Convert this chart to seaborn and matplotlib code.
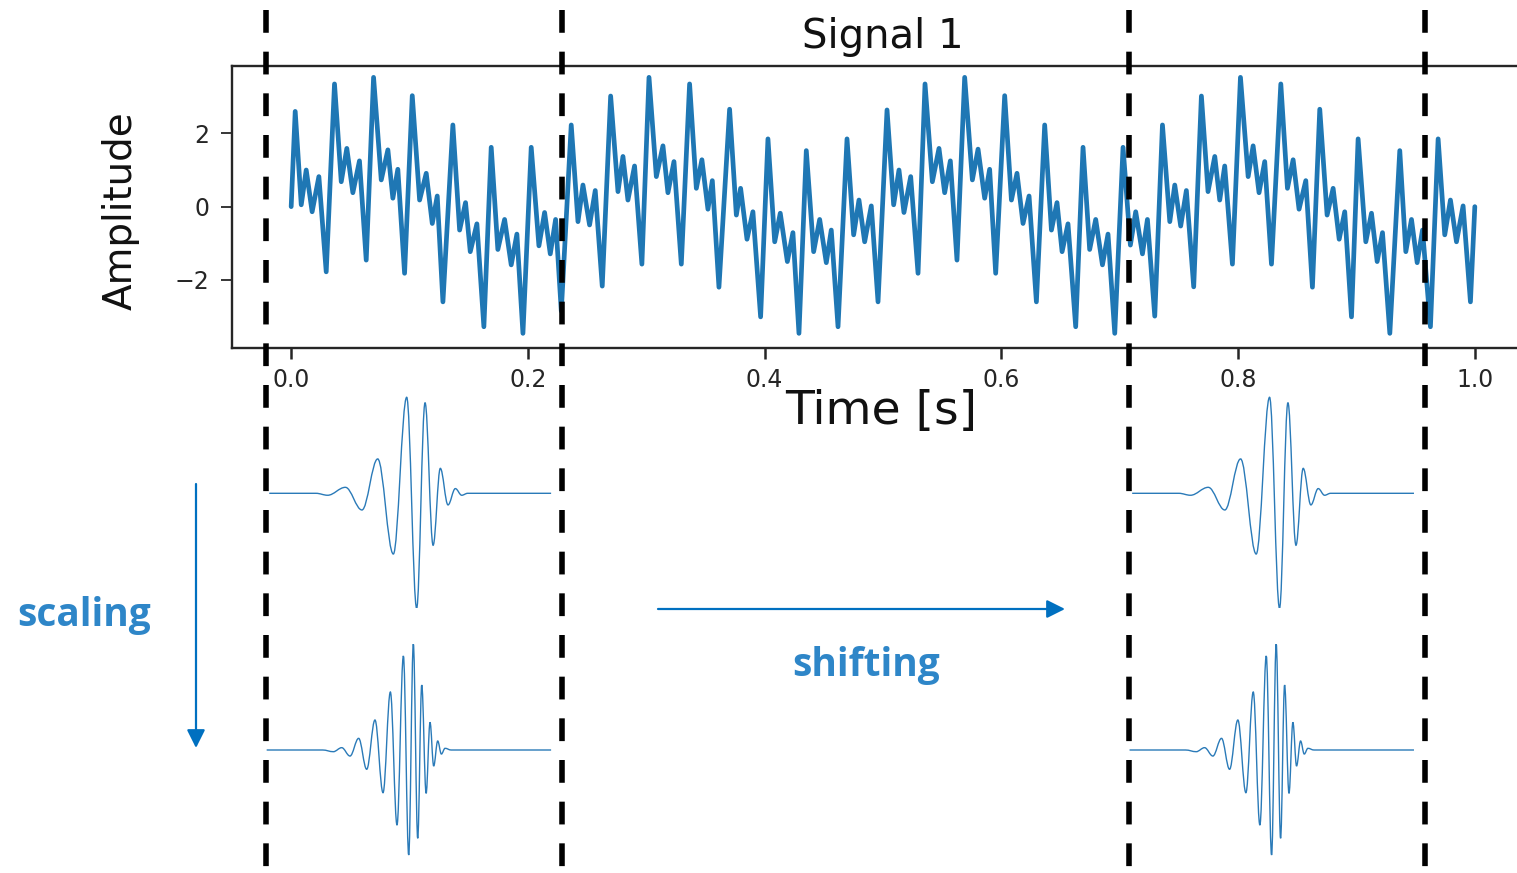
import matplotlib
matplotlib.use("Agg")
import numpy as np
import pandas as pd
import matplotlib.pyplot as plt
import seaborn as sns
from matplotlib.path import Path
from matplotlib.patches import PathPatch
from matplotlib.lines import Line2D
from matplotlib.transforms import blended_transform_factory

# ---------------- data ----------------
signal_time = [
    0.0000, 0.0034, 0.0085, 0.0127, 0.0177, 0.0234, 0.0296, 0.0366, 0.0423, 0.0470,
    0.0521, 0.0577, 0.0634, 0.0696, 0.0761, 0.0817, 0.0859, 0.0901, 0.0958, 0.1023,
    0.1085, 0.1141, 0.1192, 0.1234, 0.1282, 0.1366, 0.1423, 0.1473, 0.1513, 0.1569,
    0.1628, 0.1690, 0.1746, 0.1803, 0.1859, 0.1907, 0.1958, 0.2028, 0.2093, 0.2141,
    0.2189, 0.2234, 0.2282, 0.2366, 0.2423, 0.2465, 0.2521, 0.2569, 0.2628, 0.2699,
    0.2761, 0.2803, 0.2845, 0.2901, 0.2963, 0.3023, 0.3085, 0.3141, 0.3183, 0.3234,
    0.3296, 0.3366, 0.3423, 0.3470, 0.3521, 0.3558, 0.3614, 0.3704, 0.3761, 0.3797,
    0.3851, 0.3901, 0.3966, 0.4028, 0.4085, 0.4132, 0.4192, 0.4239, 0.4290, 0.4352,
    0.4414, 0.4465, 0.4521, 0.4563, 0.4620, 0.4696, 0.4752, 0.4797, 0.4845, 0.4901,
    0.4958, 0.5034, 0.5090, 0.5135, 0.5177, 0.5234, 0.5296, 0.5355, 0.5417, 0.5473,
    0.5521, 0.5569, 0.5625, 0.5690, 0.5755, 0.5803, 0.5859, 0.5901, 0.5952, 0.6028,
    0.6085, 0.6132, 0.6183, 0.6234, 0.6296, 0.6366, 0.6423, 0.6470, 0.6513, 0.6563,
    0.6628, 0.6690, 0.6746, 0.6797, 0.6854, 0.6901, 0.6958, 0.7028, 0.7090, 0.7135,
    0.7192, 0.7234, 0.7296, 0.7361, 0.7423, 0.7465, 0.7515, 0.7563, 0.7625, 0.7690,
    0.7746, 0.7803, 0.7845, 0.7887, 0.7952, 0.8020, 0.8085, 0.8127, 0.8177, 0.8225,
    0.8282, 0.8361, 0.8417, 0.8465, 0.8515, 0.8572, 0.8628, 0.8690, 0.8752, 0.8803,
    0.8854, 0.8901, 0.8958, 0.9014, 0.9079, 0.9127, 0.9175, 0.9220, 0.9282, 0.9366,
    0.9417, 0.9465, 0.9513, 0.9558, 0.9625, 0.9690, 0.9746, 0.9794, 0.9845, 0.9901,
    0.9963, 1.0000,
]
signal_amp = [
    0.00, 2.60, 0.05, 1.00, -0.14, 0.82, -1.78, 3.35, 0.68, 1.59,
    0.38, 1.25, -1.46, 3.53, 0.73, 1.55, 0.23, 1.02, -1.82, 3.03,
    0.18, 0.91, -0.46, 0.29, -2.60, 2.23, -0.64, 0.11, -1.23, -0.47,
    -3.28, 1.62, -1.17, -0.35, -1.59, -0.75, -3.46, 1.62, -1.07, -0.16,
    -1.29, -0.35, -2.85, 2.23, -0.41, 0.59, -0.50, 0.44, -2.17, 3.02,
    0.41, 1.37, 0.18, 1.11, -1.57, 3.53, 0.82, 1.66, 0.38, 1.23,
    -1.57, 3.35, 0.50, 1.28, -0.07, 0.71, -2.20, 2.66, -0.23, 0.50,
    -0.89, -0.14, -3.01, 1.85, -0.96, -0.18, -1.50, -0.71, -3.46, 1.53,
    -1.23, -0.35, -1.53, -0.64, -3.28, 1.85, -0.77, 0.18, -0.96, 0.02,
    -2.60, 2.64, 0.05, 1.00, -0.16, 0.82, -1.82, 3.35, 0.68, 1.59,
    0.38, 1.25, -1.46, 3.53, 0.73, 1.57, 0.23, 1.02, -1.82, 3.03,
    0.18, 0.91, -0.46, 0.29, -2.60, 2.23, -0.64, 0.11, -1.23, -0.47,
    -3.28, 1.62, -1.17, -0.35, -1.59, -0.75, -3.46, 1.62, -1.05, -0.14,
    -1.29, -0.35, -2.99, 2.23, -0.41, 0.59, -0.53, 0.44, -2.19, 3.02,
    0.41, 1.37, 0.18, 1.11, -1.57, 3.53, 0.82, 1.66, 0.38, 1.23,
    -1.57, 3.35, 0.50, 1.28, -0.07, 0.71, -2.20, 2.66, -0.23, 0.50,
    -0.89, -0.14, -3.01, 1.85, -0.96, -0.18, -1.50, -0.71, -3.46, 1.53,
    -1.23, -0.35, -1.53, -0.64, -3.28, 1.85, -0.77, 0.18, -0.96, 0.02,
    -2.60, 0.00,
]

# wavelet extrema (local time inside a window, relative amplitude)
wavelet_a_tau = [0.0025, 0.0420, 0.0518, 0.0668, 0.0808, 0.0941, 0.1073, 0.1186, 0.1270,
                 0.1341, 0.1409, 0.1470, 0.1535, 0.1597, 0.1651, 0.1701, 0.2406]
wavelet_a_amp = [0.0, 0.0, -0.017, 0.052, -0.145, 0.299, -0.528, 0.835, -1.0,
                 0.788, -0.452, 0.217, -0.101, 0.041, -0.017, 0.0, 0.0]
wavelet_b_tau = [0.0003, 0.0476, 0.0566, 0.0637, 0.0707, 0.0780, 0.0848, 0.0918, 0.0986,
                 0.1048, 0.1104, 0.1158, 0.1203, 0.1242, 0.1279, 0.1313, 0.1350, 0.1383,
                 0.1414, 0.1448, 0.1479, 0.1510, 0.1561, 0.2406]
wavelet_b_amp = [0.0, 0.0, -0.016, 0.022, -0.057, 0.110, -0.182, 0.283, -0.403,
                 0.547, -0.708, 0.887, -0.991, 1.0, -0.833, 0.613, -0.409, 0.261,
                 -0.151, 0.085, -0.038, 0.016, 0.0, 0.0]

window_starts = [-0.021, 0.708]
window_width = 0.25

x_ticks = [0.0, 0.2, 0.4, 0.6, 0.8, 1.0]
y_ticks = [-2, 0, 2]

title_text = "Signal 1"
xlabel_text = "Time [s]"
ylabel_text = "Amplitude"
scaling_text = "scaling"
shifting_text = "shifting"

# ---------------- styling ----------------
sns.set_style("ticks")
plt.rcParams["font.family"] = ["DejaVu Sans"]

W, H = 1517, 873
fig = plt.figure(figsize=(W / 100, H / 100), dpi=100)
fig.patch.set_facecolor("white")

def fx(px):
    return px / W

def fy(py):
    return 1 - py / H

XL, XR = 232, 1534
ax = fig.add_axes([fx(XL), fy(348), (XR - XL) / W, 282 / H])

df = pd.DataFrame({"time": signal_time, "amp": signal_amp})
sns.lineplot(data=df, x="time", y="amp", ax=ax, color="#1f77b4", lw=3.4,
             estimator=None, sort=False)
ax.set_xlim(-0.05, 1.05)
ax.set_ylim(-3.86, 3.84)
ax.set_xticks(x_ticks)
ax.set_xticklabels([f"{v:.1f}" for v in x_ticks])
ax.set_yticks(y_ticks)
ax.set_yticklabels([f"{v}".replace("-", "\u2212") for v in y_ticks])
for side in ["left", "top", "bottom"]:
    ax.spines[side].set_linewidth(1.7)
    ax.spines[side].set_color("#262626")
ax.spines["right"].set_visible(False)
ax.tick_params(axis="x", length=8, width=1.8, labelsize=17, pad=6.5, colors="#262626")
ax.tick_params(axis="y", length=8, width=1.3, labelsize=17, pad=8.5, colors="#262626")
ax.set_title(title_text, fontsize=29, pad=13.0, color="#111111")
ax.set_xlabel(xlabel_text, fontsize=34, color="#111111")
ax.xaxis.set_label_coords(0.4985, -0.1454)
ax.set_ylabel(ylabel_text, fontsize=28, color="#111111")
ax.yaxis.set_label_coords(-0.0707, 0.4858)

# ---------------- wavelet rows ----------------
def smooth_path(xs, ys, k=0.364):
    verts = [(xs[0], ys[0])]
    codes = [Path.MOVETO]
    for i in range(len(xs) - 1):
        dx = xs[i + 1] - xs[i]
        verts += [(xs[i] + k * dx, ys[i]), (xs[i + 1] - k * dx, ys[i + 1]),
                  (xs[i + 1], ys[i + 1])]
        codes += [Path.CURVE4] * 3
    return Path(verts, codes)

rows = [
    (wavelet_a_tau, wavelet_a_amp, 378.3, 608.3),
    (wavelet_b_tau, wavelet_b_amp, 644.0, 856.0),
]
for taus, amps, ytop, ybot in rows:
    wax = fig.add_axes([fx(XL), fy(ybot), (XR - XL) / W, (ybot - ytop) / H])
    wax.set_xlim(-0.05, 1.05)
    wax.set_ylim(-1, 1)
    wax.axis("off")
    for ws in window_starts:
        xs = [ws + t for t in taus]
        wax.add_patch(PathPatch(smooth_path(xs, amps), fill=False,
                                edgecolor="#2a7ab8", lw=1.0))

# ---------------- dashed window boundaries ----------------
blend = blended_transform_factory(ax.transData, fig.transFigure)
for ws in window_starts:
    for xb in (ws, ws + window_width):
        fig.add_artist(Line2D([xb, xb], [fy(10), 0.0], transform=blend,
                              color="black", lw=4.0,
                              linestyle=(0, (4.1, 3.4)), zorder=5))

# ---------------- arrows and annotations ----------------
ov = fig.add_axes([0, 0, 1, 1])
ov.set_xlim(0, W)
ov.set_ylim(H, 0)
ov.axis("off")
arrow_color = "#0070C0"
astyle = "-|>,head_length=1.1,head_width=0.55"
ov.annotate("", xy=(196, 748), xytext=(196, 484),
            arrowprops=dict(arrowstyle=astyle, color=arrow_color, lw=1.6,
                            shrinkA=0, shrinkB=0, mutation_scale=10))
ov.annotate("", xy=(1065, 609), xytext=(658, 609),
            arrowprops=dict(arrowstyle=astyle, color=arrow_color, lw=1.6,
                            shrinkA=0, shrinkB=0, mutation_scale=10))

txt_color = "#2E86C8"
fig.text(fx(84), fy(626), scaling_text, ha="center", va="baseline",
         fontsize=28, fontweight="bold", color=txt_color,
         family=["Open Sans", "DejaVu Sans"])
fig.text(fx(866), fy(676), shifting_text, ha="center", va="baseline",
         fontsize=28, fontweight="bold", color=txt_color,
         family=["Open Sans", "DejaVu Sans"])

fig.savefig("out.png", dpi=100, facecolor="white")
